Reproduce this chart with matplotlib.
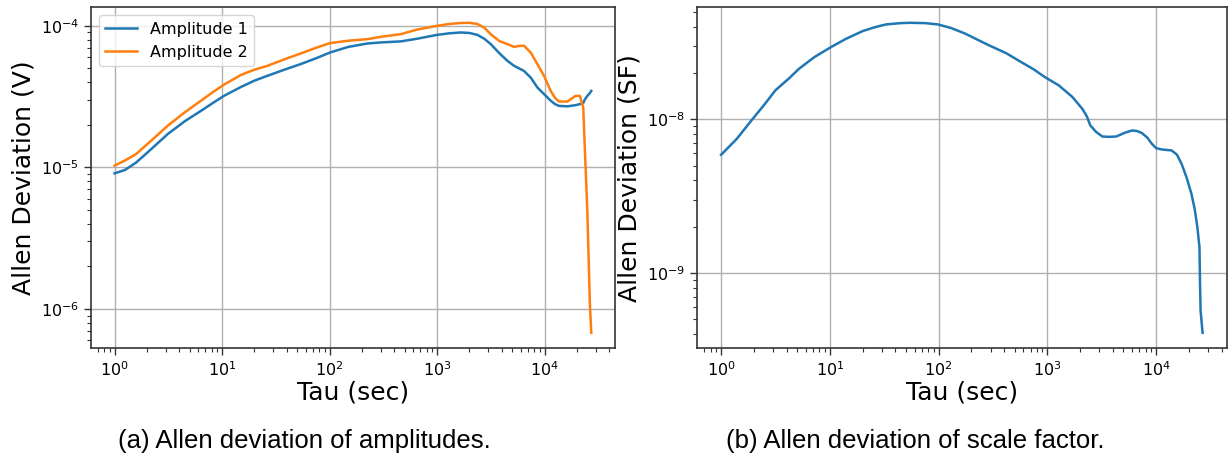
import numpy as np
import matplotlib
matplotlib.use("Agg")
import matplotlib.pyplot as plt

# tau values (sec) for the amplitude plot
tau_amp = [1, 1.25, 1.58, 2.2, 3.12, 4.5, 6.37, 8.2, 10.4, 15, 20, 26.5, 38,
           54, 75, 101, 150, 225, 300, 460, 650, 1000, 1300, 1660, 2000, 2370,
           2750, 3155, 3800, 4510, 5200, 5800, 6440, 7430, 8570, 9870, 11400,
           12500, 13600, 16300, 19400, 21300, 22900, 23600, 25000, 26400, 27200]
amp1 = [9.08e-6, 9.6e-6, 1.08e-5, 1.35e-5, 1.72e-5, 2.12e-5, 2.51e-5, 2.85e-5,
        3.2e-5, 3.7e-5, 4.1e-5, 4.44e-5, 4.9e-5, 5.37e-5, 5.9e-5, 6.48e-5,
        7.1e-5, 7.5e-5, 7.63e-5, 7.76e-5, 8.1e-5, 8.63e-5, 8.85e-5, 8.97e-5,
        8.9e-5, 8.63e-5, 8.1e-5, 7.43e-5, 6.4e-5, 5.66e-5, 5.22e-5, 5.0e-5,
        4.8e-5, 4.31e-5, 3.67e-5, 3.3e-5, 2.96e-5, 2.8e-5, 2.72e-5, 2.7e-5,
        2.75e-5, 2.8e-5, 2.85e-5, 3.0e-5, 3.2e-5, 3.35e-5, 3.47e-5]
amp2 = [1.03e-5, 1.12e-5, 1.24e-5, 1.55e-5, 1.97e-5, 2.45e-5, 2.96e-5, 3.4e-5,
        3.84e-5, 4.5e-5, 4.9e-5, 5.22e-5, 5.8e-5, 6.38e-5, 7.0e-5, 7.55e-5,
        7.85e-5, 8.05e-5, 8.36e-5, 8.73e-5, 9.4e-5, 1.0e-4, 1.03e-4, 1.047e-4,
        1.05e-4, 1.03e-4, 9.7e-5, 8.73e-5, 7.8e-5, 7.43e-5, 7.1e-5, 7.2e-5,
        7.23e-5, 6.48e-5, 5.37e-5, 4.44e-5, 3.47e-5, 3.1e-5, 2.92e-5, 2.92e-5,
        3.2e-5, 3.2e-5, 2.65e-5, 1.47e-5, 4.9e-6, 1.09e-6, 6.8e-7]

# tau values (sec) for the scale factor plot
tau_sf = [1, 1.4, 1.9, 2.5, 3.16, 4.2, 5.2, 7.2, 10.2, 14, 20, 26, 33, 45, 54.7,
          75, 98, 130, 177, 230, 292, 420, 572, 750, 946, 1270, 1700, 2100,
          2300, 2480, 2800, 3200, 3700, 4290, 5070, 6000, 6700, 7400, 8300,
          9120, 10000, 11250, 13860, 15500, 17100, 19000, 21100, 22600, 23900,
          25000, 25300, 25600, 26700]
sf = [5.88e-9, 7.5e-9, 9.85e-9, 1.25e-8, 1.55e-8, 1.85e-8, 2.14e-8, 2.55e-8,
      2.96e-8, 3.35e-8, 3.77e-8, 4.0e-8, 4.17e-8, 4.25e-8, 4.27e-8, 4.25e-8,
      4.17e-8, 3.95e-8, 3.62e-8, 3.3e-8, 3.04e-8, 2.7e-8, 2.37e-8, 2.12e-8,
      1.89e-8, 1.67e-8, 1.4e-8, 1.17e-8, 1.05e-8, 9.14e-9, 8.3e-9, 7.74e-9,
      7.7e-9, 7.74e-9, 8.15e-9, 8.48e-9, 8.4e-9, 8.15e-9, 7.6e-9, 6.94e-9,
      6.5e-9, 6.37e-9, 6.28e-9, 5.9e-9, 5.14e-9, 4.2e-9, 3.27e-9, 2.6e-9,
      1.99e-9, 1.47e-9, 8.5e-10, 5.68e-10, 4.06e-10]

captions = ["(a) Allen deviation of amplitudes.", "(b) Allen deviation of scale factor."]


def style_ax(ax):
    ax.set_xscale('log')
    ax.set_yscale('log')
    ax.grid(True, which='major', color='#b0b0b0', linewidth=1.0)
    for s in ax.spines.values():
        s.set_color('#333333')
        s.set_linewidth(1.2)
    ax.tick_params(which='major', length=5, width=1, labelsize=11.5, color='#333333')
    ax.tick_params(which='minor', length=3, width=0.8, color='#333333')
    ax.set_xlabel('Tau (sec)', fontsize=18, labelpad=1)


fig = plt.figure(figsize=(12.28, 4.65), dpi=100)

ax1 = fig.add_axes([0.0739, 0.251, 0.427, 0.7333])
ax1.plot(tau_amp, amp1, color='#1f77b4', lw=1.8, label='Amplitude 1')
ax1.plot(tau_amp, amp2, color='#ff7f0e', lw=1.8, label='Amplitude 2')
style_ax(ax1)
ax1.set_ylabel('Allen Deviation (V)', fontsize=18)
ax1.legend(loc='upper left', fontsize=11.5)

ax2 = fig.add_axes([0.5676, 0.251, 0.4313, 0.7333])
ax2.plot(tau_sf, sf, color='#1f77b4', lw=1.8)
style_ax(ax2)
ax2.set_ylabel('Allen Deviation (SF)', fontsize=18)

fig.text(0.248, 0.052, captions[0], fontsize=18.5, family='Liberation Sans',
         ha='center', va='center')
fig.text(0.745, 0.052, captions[1], fontsize=18.5, family='Liberation Sans',
         ha='center', va='center')

fig.savefig('out.png', dpi=100)
